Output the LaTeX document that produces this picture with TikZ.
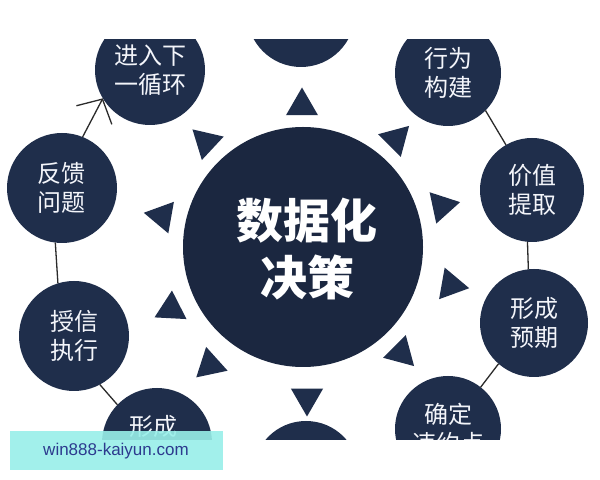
\documentclass[tikz,border=0pt]{standalone}
\usepackage{fontspec}
\setmainfont{Liberation Sans}
\newfontfamily\cjk{Noto Sans CJK SC}
\usetikzlibrary{arrows.meta}
\definecolor{navy}{HTML}{1F2E4B}
\definecolor{navyc}{HTML}{1B2740}
\definecolor{aqua}{HTML}{98EFE9}
\definecolor{wmtext}{HTML}{2C3A8E}
\definecolor{linec}{HTML}{2B2B2B}
\definecolor{txt}{HTML}{F3F5FA}
\begin{document}
\begin{tikzpicture}[x=0.5pt,y=-0.5pt,
  bub/.style={circle, fill=navy, inner sep=0pt, outer sep=0pt, minimum size=#1pt,
    text=txt, align=center, font=\cjk\fontsize{12}{14.5}\selectfont},
  bub/.default=55,
  lbl/.style={text=txt, inner sep=0pt, font=\cjk\fontsize{12}{14.5}\selectfont},
  conn/.style={draw=linec, line width=0.65pt},
  tri/.style={fill=navy}]
\useasboundingbox (0,0) rectangle (600,480);
\fill[white] (0,0) rectangle (600,480);
\begin{scope}
\clip (0,40) rectangle (600,440);
% centre
\node[circle, fill=navyc, inner sep=0pt, outer sep=0pt, minimum size=120pt] (c) at (303,247) {};
\node[text=white, inner sep=0pt, align=center, font=\cjk\bfseries\fontsize{23.5}{28.5}\selectfont]
  (ct) at (307,249) {数据化\\决策};
% outer bubbles
\node[bub=54] (top) at (301,13) {};
\node[bub=55] (jr) at (150,70) {进入下\\一循环};
\node[bub=53] (xw) at (448,73) {行为\\构建};
\node[bub=52] (jz) at (532,190) {价值\\提取};
\node[bub=54] (yq) at (534,323) {形成\\预期};
\node[bub=53] (wy) at (448,429) {确定\\违约点};
\node[bub=53] (bot) at (306,474) {};
\node[bub=55] (xc) at (157,443) {};
\node[lbl] (xct) at (153,426) {形成};
\node[bub=55] (sx) at (74,336) {授信\\执行};
\node[bub=55] (fk) at (62,188) {反馈\\问题};
% triangles
\foreach \cx/\cy/\a in {302/106/270, 206/142/223, 162/216/190, 171/309/153,
  210/365/138, 307/398/90, 401/353/45, 451/285/10, 442/206/-12, 396/139/-45}
  \fill[tri, shift={(\cx,\cy)}] (\a:18.5) -- (\a+120:18.5) -- (\a+240:18.5) -- cycle;
% connectors
\draw[conn] (fk.263) -- (sx.107);
\draw[conn] (sx.-62) -- (xc.136);
\draw[conn] (xw.-45) -- (jz.120);
\draw[conn] (jz.-95) -- (yq.96);
\draw[conn] (yq.229) -- (wy.52);
\draw[conn, -{Straight Barb[length=9pt,width=20pt]}] (fk.68) -- (jr.211);
\end{scope}
% watermark
\fill[aqua, opacity=0.9] (10,431) rectangle (223,470);
\node[text=wmtext, inner sep=0pt, font=\fontsize{8.5}{10}\selectfont] (wmt) at (116,451) {win888-kaiyun.com};
\end{tikzpicture}
\end{document}
